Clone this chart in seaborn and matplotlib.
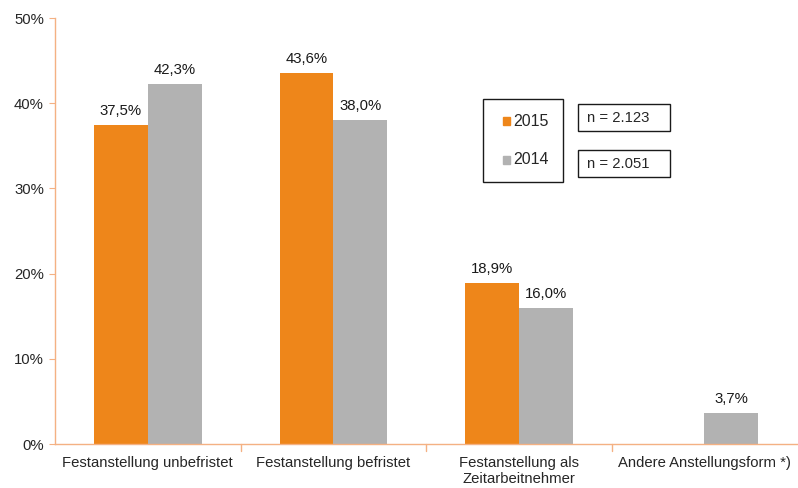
import numpy as np
import pandas as pd
import matplotlib
matplotlib.use("Agg")
import matplotlib.pyplot as plt
import seaborn as sns
from matplotlib.patches import Rectangle

categories = ["Festanstellung unbefristet", "Festanstellung befristet",
              "Festanstellung als\nZeitarbeitnehmer", "Andere Anstellungsform *)"]
years = ["2015", "2014"]
values_2015 = [37.5, 43.6, 18.9, np.nan]
values_2014 = [42.3, 38.0, 16.0, 3.7]
n_labels = ["n = 2.123", "n = 2.051"]
colors = {"2015": "#EE861A", "2014": "#B2B2B2"}

df = pd.DataFrame({
    "Kategorie": categories * 2,
    "Jahr": ["2015"] * 4 + ["2014"] * 4,
    "Wert": values_2015 + values_2014,
})

sns.set_style("white")
plt.rcParams["font.family"] = ["Liberation Sans", "DejaVu Sans"]
FS = 10.7
spine_col = "#F4B183"

fig = plt.figure(figsize=(7.98, 4.88), dpi=100)
ax = fig.add_axes([0.069, 0.090, 0.93, 0.873])

sns.barplot(data=df, x="Kategorie", y="Wert", hue="Jahr", hue_order=years,
            palette=colors, width=0.58, gap=0, saturation=1, ax=ax, legend=False,
            errorbar=None, linewidth=0)

# value labels, skipping missing bars
for cont in ax.containers:
    for bar in cont:
        if bar is None:
            continue
        h = bar.get_height()
        if np.isnan(h):
            continue
        ax.annotate(f"{h:.1f}%".replace(".", ","),
                    (bar.get_x() + bar.get_width() / 2, h),
                    xytext=(0, 5), textcoords="offset points",
                    ha="center", va="bottom", fontsize=FS, color="#1a1a1a")

ax.set_xlim(-0.5, 3.5)
ax.set_ylim(0, 50)
ax.set_yticks(range(0, 51, 10))
ax.set_yticklabels([f"{t}%" for t in range(0, 51, 10)], fontsize=FS)
ax.set_xticks([0, 1, 2, 3])
ax.set_xticklabels(categories, fontsize=FS, linespacing=1.15)
ax.set_xlabel("")
ax.set_ylabel("")

for s in ["top", "right"]:
    ax.spines[s].set_visible(False)
for s in ["left", "bottom"]:
    ax.spines[s].set_color(spine_col)
    ax.spines[s].set_linewidth(1.0)
ax.tick_params(axis="y", left=True, length=4, color=spine_col, pad=4)
ax.tick_params(axis="x", bottom=False, pad=5)
# category separator ticks on x axis
for b in [0.5, 1.5, 2.5]:
    ax.plot([b, b], [0, -0.8], color=spine_col, lw=1.0, clip_on=False)

# legend box
W, H = 798, 488
def fig_rect(x0, y0, x1, y1, **kw):
    fig.patches.append(Rectangle((x0 / W, 1 - y1 / H), (x1 - x0) / W, (y1 - y0) / H,
                                 transform=fig.transFigure, fill=False, **kw))

fig_rect(483, 99, 563, 182, edgecolor="#1a1a1a", lw=1.0)
for yc, yr in [(121, "2015"), (160, "2014")]:
    fig.patches.append(Rectangle((503 / W, 1 - (yc + 4) / H), 7 / W, 8 / H,
                                 transform=fig.transFigure, color=colors[yr]))
    fig.text(513 / W, 1 - yc / H, yr, fontsize=FS + 0.8, va="center", ha="left")

for (y0, y1), lab in zip([(104, 131), (150, 177)], n_labels):
    fig_rect(578, y0, 670, y1, edgecolor="#1a1a1a", lw=1.0)
    fig.text(587 / W, 1 - (y0 + y1) / 2 / H, lab, fontsize=FS, va="center", ha="left")

fig.savefig("out.png", dpi=100)
